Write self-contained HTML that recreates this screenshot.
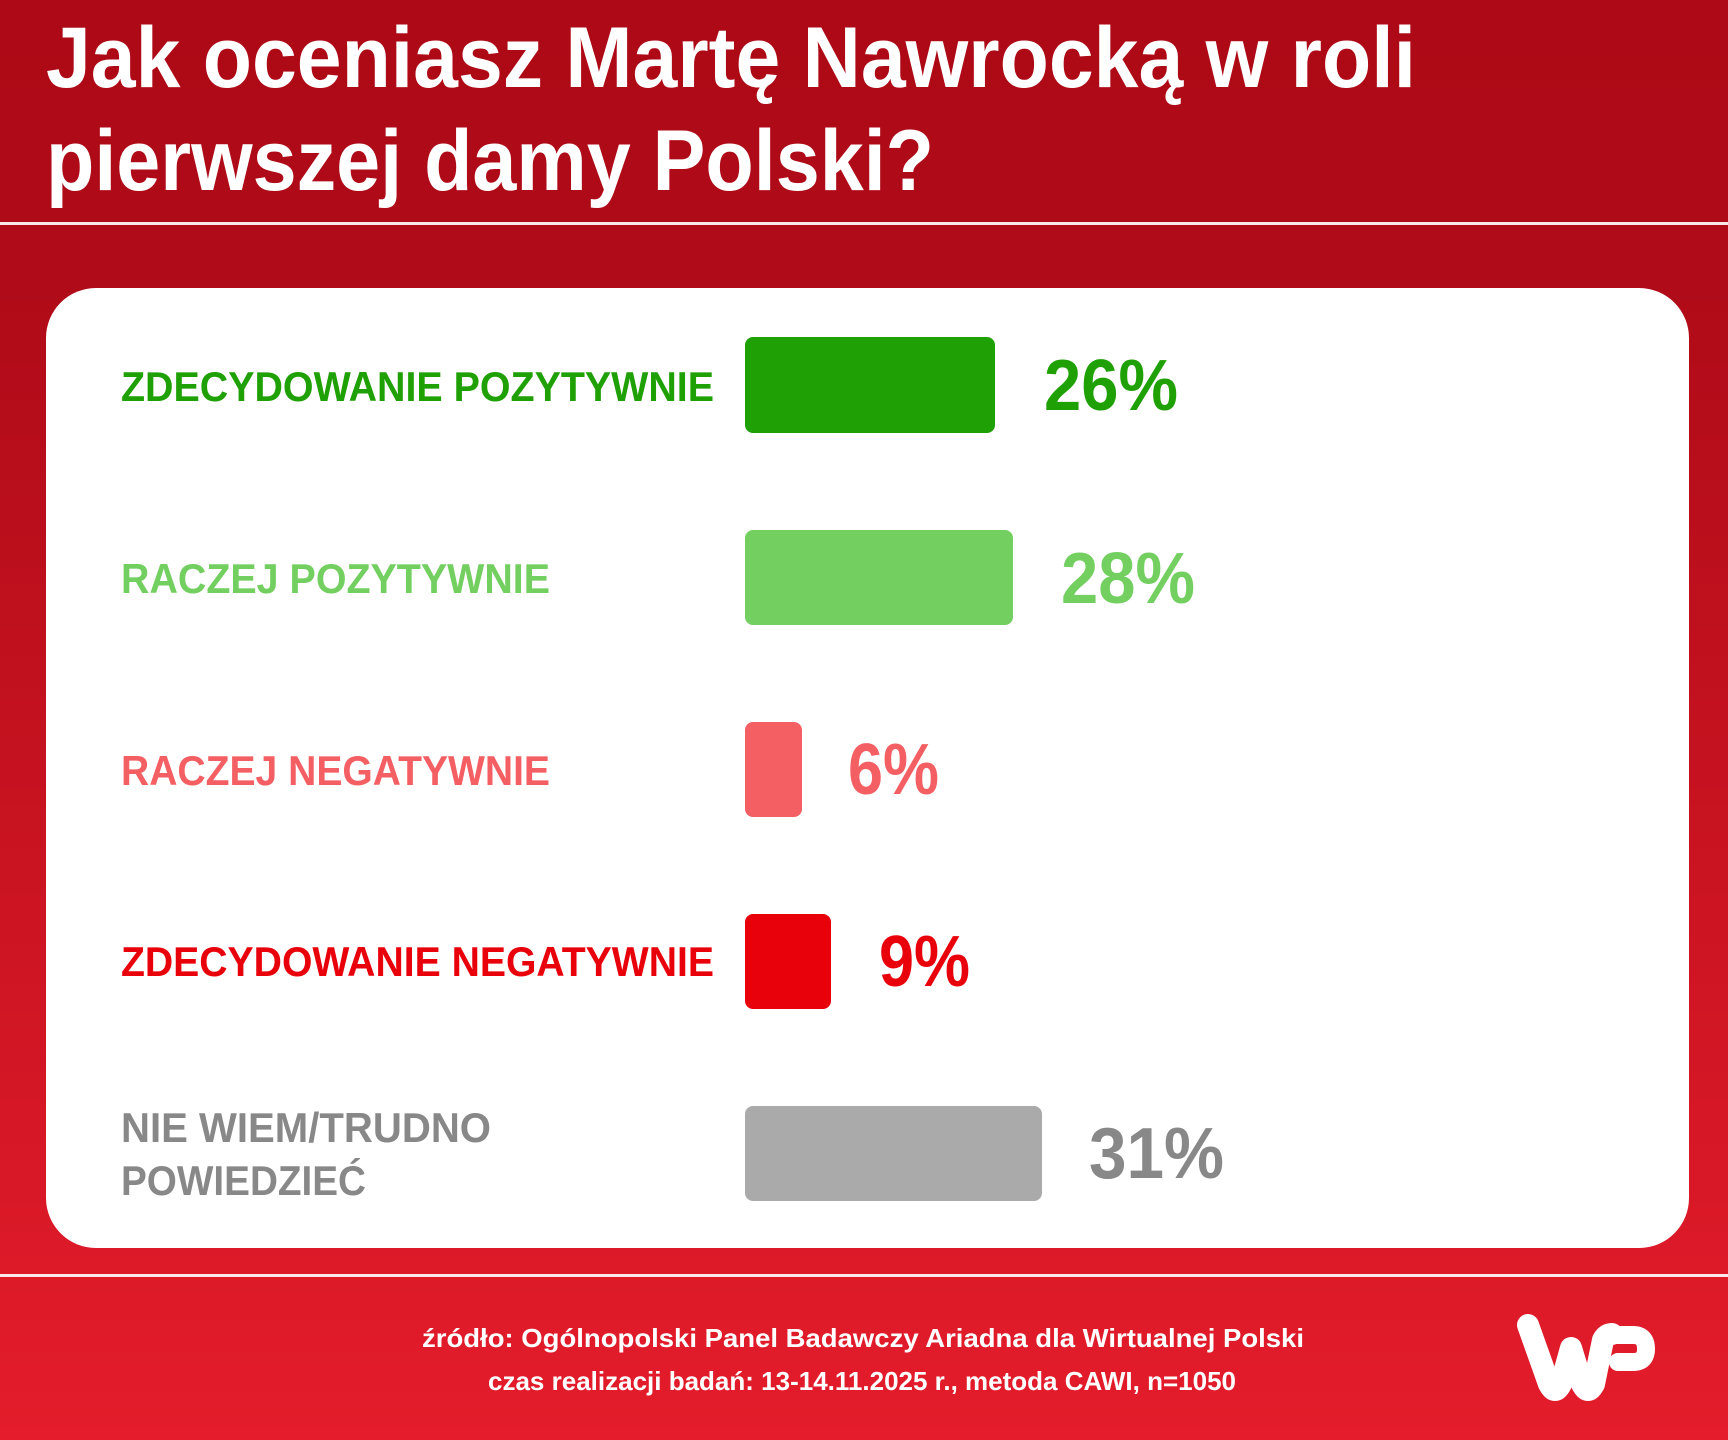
<!DOCTYPE html>
<html><head><meta charset="utf-8"><style>
html,body{margin:0;padding:0;width:1728px;height:1440px;overflow:hidden}
svg{display:block}
text{font-family:"Liberation Sans",Arial,sans-serif;font-weight:bold}
</style></head><body>
<svg width="1728" height="1440" viewBox="0 0 1728 1440" xmlns="http://www.w3.org/2000/svg">
<defs><linearGradient id="g" x1="0" y1="0" x2="0" y2="1">
<stop offset="0" stop-color="#ad0916"/><stop offset="0.2" stop-color="#b00b18"/><stop offset="1" stop-color="#e41c2b"/></linearGradient></defs>
<rect width="1728" height="1440" fill="url(#g)"/>
<text x="46" y="87" font-size="86" fill="#fff" textLength="1370" lengthAdjust="spacingAndGlyphs">Jak oceniasz Martę Nawrocką w roli</text>
<text x="46" y="190" font-size="86" fill="#fff" textLength="888" lengthAdjust="spacingAndGlyphs">pierwszej damy Polski?</text>
<rect x="0" y="222" width="1728" height="3" fill="#fff" opacity="0.9"/>
<rect x="46" y="288" width="1643" height="960" rx="50" fill="#fff"/>
<rect x="0" y="1274" width="1728" height="3" fill="#fff" opacity="0.9"/>

<g font-size="42">
<text x="121" y="401" fill="#1fa005" textLength="593" lengthAdjust="spacingAndGlyphs">ZDECYDOWANIE POZYTYWNIE</text>
<text x="121" y="593" fill="#72cf60" textLength="429" lengthAdjust="spacingAndGlyphs">RACZEJ POZYTYWNIE</text>
<text x="121" y="785" fill="#f45f63" textLength="429" lengthAdjust="spacingAndGlyphs">RACZEJ NEGATYWNIE</text>
<text x="121" y="976" fill="#e8000b" textLength="593" lengthAdjust="spacingAndGlyphs">ZDECYDOWANIE NEGATYWNIE</text>
<text x="121" y="1142" fill="#888" textLength="370" lengthAdjust="spacingAndGlyphs">NIE WIEM/TRUDNO</text>
<text x="121" y="1195" fill="#888" textLength="245" lengthAdjust="spacingAndGlyphs">POWIEDZIEĆ</text>
</g>

<rect x="745" y="337" width="250" height="96" rx="8" fill="#1fa005"/>
<rect x="745" y="530" width="268" height="95" rx="8" fill="#72cf60"/>
<rect x="745" y="722" width="57" height="95" rx="8" fill="#f45f63"/>
<rect x="745" y="914" width="86" height="95" rx="8" fill="#e8000b"/>
<rect x="745" y="1106" width="297" height="95" rx="8" fill="#aaaaaa"/>

<g font-size="72">
<text x="1044" y="410" fill="#1fa005" textLength="134" lengthAdjust="spacingAndGlyphs">26%</text>
<text x="1061" y="603" fill="#72cf60" textLength="134" lengthAdjust="spacingAndGlyphs">28%</text>
<text x="848" y="794" fill="#f45f63" textLength="91" lengthAdjust="spacingAndGlyphs">6%</text>
<text x="879" y="986" fill="#e8000b" textLength="91" lengthAdjust="spacingAndGlyphs">9%</text>
<text x="1089" y="1178" fill="#888" textLength="135" lengthAdjust="spacingAndGlyphs">31%</text>
</g>

<text x="422" y="1347" font-size="26" fill="#fff" textLength="882" lengthAdjust="spacingAndGlyphs">źródło: Ogólnopolski Panel Badawczy Ariadna dla Wirtualnej Polski</text>
<text x="488" y="1390" font-size="26" fill="#fff" textLength="748" lengthAdjust="spacingAndGlyphs">czas realizacji badań: 13-14.11.2025 r., metoda CAWI, n=1050</text>

<g fill="none" stroke="#fff" stroke-linecap="round" stroke-linejoin="round">
<path d="M1528 1325 L1549 1384 Q1555 1396 1561 1384 L1571 1348 L1582 1384 Q1588 1396 1594 1384 L1603 1340 Q1606 1334 1612 1334" stroke-width="22"/>
<path d="M1610 1335 L1633 1335 Q1646 1335 1646 1349 Q1646 1362 1633 1362 L1618 1362" stroke-width="18"/>
</g>
</svg>
</body></html>
